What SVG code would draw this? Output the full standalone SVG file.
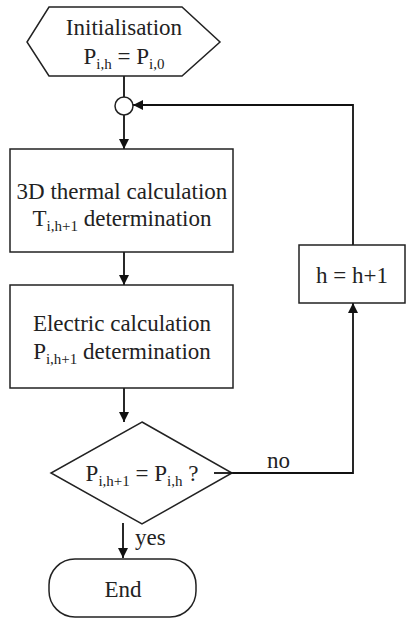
<svg xmlns="http://www.w3.org/2000/svg" width="406" height="618" viewBox="0 0 406 618">
<style>
.n{fill:#fff;stroke:#222;stroke-width:1.5}
.c{fill:none;stroke:#111;stroke-width:1.8}
text{font-family:"Liberation Serif",Tinos,"Times New Roman",Times,serif;font-size:23px;fill:#222}
.t{text-anchor:middle}
.s{font-size:15px}
</style>
<defs>
<marker id="a" markerWidth="10" markerHeight="10" refX="10" refY="5" orient="auto" markerUnits="userSpaceOnUse">
<path d="M0,0 L10,5 L0,10 Z" fill="#111"/>
</marker>
</defs>
<g id="connectors">
<line class="c" x1="124" y1="76" x2="124" y2="97"/>
<line class="c" x1="124" y1="115" x2="124" y2="149" marker-end="url(#a)"/>
<line class="c" x1="124" y1="252" x2="124" y2="285" marker-end="url(#a)"/>
<line class="c" x1="124" y1="388" x2="124" y2="422" marker-end="url(#a)"/>
<polyline class="c" points="214,473 353,473 353,303" marker-end="url(#a)"/>
<polyline class="c" points="353,245 353,105 133,105" marker-end="url(#a)"/>
<line class="c" x1="123" y1="523" x2="123" y2="558" marker-end="url(#a)"/>
<text font-family="Liberation Serif" x="267" y="468">no</text>
<text font-family="Liberation Serif" x="135" y="545">yes</text>
</g>
<g id="init">
<polygon class="n" points="49,7 182,7 220,42 182,76 49,76 27,42"/>
<text class="t" x="124" y="35">Initialisation</text>
<text class="t" x="124" y="64">P<tspan class="s" dy="5">i,h</tspan><tspan dy="-5"> = P</tspan><tspan class="s" dy="5">i,0</tspan></text>
</g>
<g id="junction">
<circle class="n" cx="124" cy="106" r="9"/>
</g>
<g id="thermal">
<rect class="n" x="10" y="149" width="223" height="103"/>
<text class="t" x="122" y="199">3D thermal calculation</text>
<text class="t" x="122" y="226">T<tspan class="s" dy="5">i,h+1</tspan><tspan dy="-5"> determination</tspan></text>
</g>
<g id="electric">
<rect class="n" x="10" y="285" width="223" height="103"/>
<text class="t" x="122" y="331">Electric calculation</text>
<text class="t" x="122" y="359">P<tspan class="s" dy="5">i,h+1</tspan><tspan dy="-5"> determination</tspan></text>
</g>
<g id="decision">
<polygon class="n" points="142,422 232,473 142,524 51,473"/>
<text class="t" x="142" y="481">P<tspan class="s" dy="5">i,h+1</tspan><tspan dy="-5"> = P</tspan><tspan class="s" dy="5">i,h</tspan><tspan dy="-5"> ?</tspan></text>
</g>
<line class="c" x1="214" y1="473" x2="232" y2="473"/>
<g id="increment">
<rect class="n" x="299" y="245" width="106" height="58"/>
<text class="t" x="352" y="283">h = h+1</text>
</g>
<g id="end">
<rect class="n" x="49" y="559" width="147" height="58" rx="26" ry="26"/>
<text class="t" x="123" y="597">End</text>
</g>
</svg>
